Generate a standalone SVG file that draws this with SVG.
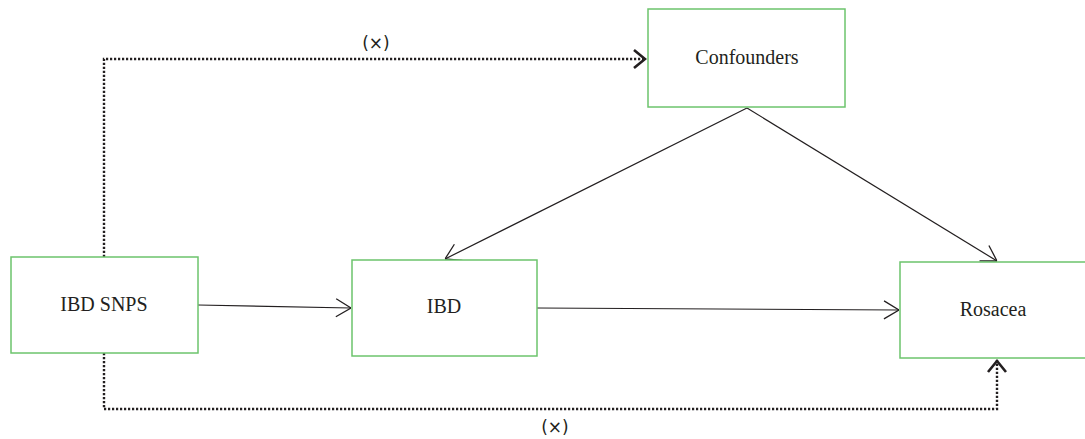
<svg xmlns="http://www.w3.org/2000/svg" width="1085" height="439" viewBox="0 0 1085 439">
  <style>
    .box { fill: #ffffff; stroke: #6cc46c; stroke-width: 1.5; }
    .label { font-family: "Liberation Serif", "Times New Roman", serif; font-size: 20px; fill: #231f20; text-anchor: middle; }
    .note { font-family: "DejaVu Sans", "Liberation Sans", sans-serif; font-size: 17px; fill: #231f20; text-anchor: middle; }
    .solid { fill: none; stroke: #231f20; stroke-width: 1.2; }
    .dotted { fill: none; stroke: #231f20; stroke-width: 2.4; stroke-dasharray: 2.2 1.8; }
  </style>
  <defs>
    <marker id="open-thin" viewBox="0 0 16 20" refX="16" refY="10" markerWidth="16" markerHeight="20" markerUnits="userSpaceOnUse" orient="auto">
      <path d="M1,1 L16,10 L1,19" fill="none" stroke="#231f20" stroke-width="1.3"/>
    </marker>
    <marker id="open-thick" viewBox="0 0 14 22" refX="13" refY="11" markerWidth="14" markerHeight="22" markerUnits="userSpaceOnUse" orient="auto">
      <path d="M1,2 L12,11 L1,20" fill="none" stroke="#231f20" stroke-width="2.6"/>
    </marker>
  </defs>

  <g id="connectors">
    <path class="dotted" d="M104,257 V59 H646" marker-end="url(#open-thick)"/>
    <path class="dotted" d="M104,353 V409 H997 V360" marker-end="url(#open-thick)"/>
    <path class="solid" d="M198,305 L351,308" marker-end="url(#open-thin)"/>
    <path class="solid" d="M537,308 L899,310" marker-end="url(#open-thin)"/>
    <path class="solid" d="M747,108 L445,259" marker-end="url(#open-thin)"/>
    <path class="solid" d="M747,108 L997,261" marker-end="url(#open-thin)"/>
    <text class="note" x="376" y="49">(×)</text>
    <text class="note" x="555" y="433">(×)</text>
  </g>

  <g id="confounders">
    <rect class="box" x="648" y="9" width="197" height="98"/>
    <text class="label" x="747" y="64">Confounders</text>
  </g>

  <g id="ibd-snps">
    <rect class="box" x="11" y="257" width="187" height="96"/>
    <text class="label" x="104" y="311">IBD SNPS</text>
  </g>

  <g id="ibd">
    <rect class="box" x="352" y="260" width="185" height="96"/>
    <text class="label" x="444" y="313">IBD</text>
  </g>

  <g id="rosacea">
    <rect class="box" x="900" y="262" width="200" height="96"/>
    <text class="label" x="993" y="316">Rosacea</text>
  </g>
</svg>
